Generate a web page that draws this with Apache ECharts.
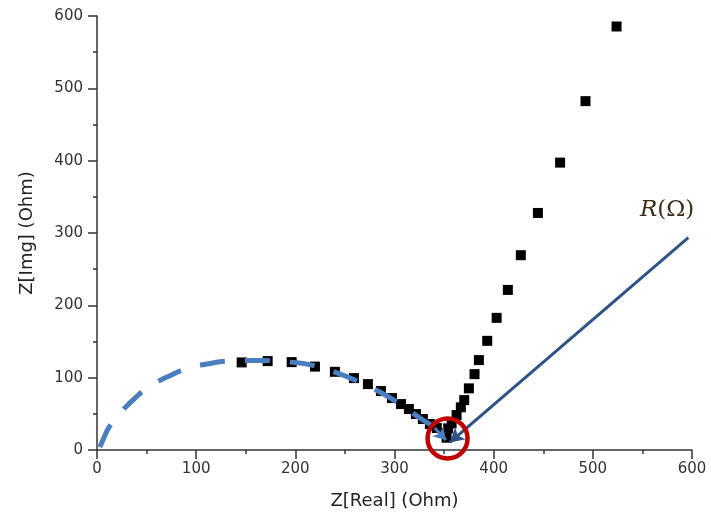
<!DOCTYPE html>
<html>
<head>
<meta charset="utf-8">
<script src="https://cdn.jsdelivr.net/npm/echarts@6/dist/echarts.min.js"></script>
<style>
html,body{margin:0;padding:0;background:#fff;}
#chart{width:711px;height:519px;}
</style>
</head>
<body>
<div id="chart"></div>
<script>
// Measured impedance points (Z real, Z imaginary), Ohm
const zReal = [145.9,172.1,196.3,219.8,239.9,259.1,273.2,286.3,297.4,306.5,314.5,321.6,328.6,335.7,342.7,348.8,352.5,
               354.1,357.6,362.6,366.9,370.3,375.0,380.7,385.1,393.5,403.0,414.3,427.4,444.6,467.0,492.6,523.9];
const zImg  = [121.1,122.9,121.5,115.3,108.1,99.4,91.1,81.5,71.8,63.5,56.6,49.7,42.8,35.9,30.4,23.5,17.0,
               29.9,36.8,48.3,59.0,69.0,85.2,104.9,124.3,150.9,182.7,221.3,269.3,327.7,397.3,482.3,585.5];
// Fitted semicircle (dashed blue)
const arcReal = [3.0,6.0,11.1,17.1,23.2,38.3,53.4,70.6,91.7,110.9,132.1,154.2,174.4,194.6,216.7,239.9,260.1,285.3,305.4,325.6,340.7,351.8];
const arcImg  = [4.0,13.8,29.0,41.4,51.1,71.8,88.4,100.8,113.2,118.8,122.9,123.6,123.6,121.5,117.4,107.7,96.7,80.1,63.5,44.2,30.4,13.8];
// R(Ω) arrow (from, to)
const rArrowReal = [596.3, 355.8];
const rArrowImg  = [293.7, 10.5];
// Red circle marking the intercept
const circleCenter = [353.5, 16.0];
// Axis ticks
const xTicks = [0,100,200,300,400,500,600];
const yTicks = [0,100,200,300,400,500,600];

const squares = zReal.map((x,i)=>[x, zImg[i]]);
const arc = arcReal.map((x,i)=>[x, arcImg[i]]);
const n = arc.length;

const chart = echarts.init(document.getElementById('chart'), null, {renderer:'canvas'});
const axisCommon = {
  min: xTicks[0], max: xTicks[xTicks.length-1], interval: xTicks[1]-xTicks[0],
  nameLocation: 'middle',
  nameTextStyle: {fontFamily:'DejaVu Sans', fontSize:18, color:'#222'},
  axisLine: {show:true, onZero:false, lineStyle:{color:'#333', width:1.5}},
  axisTick: {show:true, inside:false, length:9, lineStyle:{color:'#333', width:1.5}},
  minorTick: {show:true, splitNumber:2, length:4, lineStyle:{color:'#333', width:1.5}},
  splitLine: {show:false},
  axisLabel: {fontFamily:'DejaVu Sans', fontSize:15, color:'#333'}
};
chart.setOption({
  animation:false,
  backgroundColor:'#fff',
  grid:{left:97, right:19, top:16, bottom:69, containLabel:false},
  xAxis: Object.assign({}, axisCommon, {
    type:'value', name:'Z[Real] (Ohm)', nameGap:42,
    axisLabel: Object.assign({}, axisCommon.axisLabel, {margin:12})
  }),
  yAxis: Object.assign({}, axisCommon, {
    type:'value', name:'Z[Img] (Ohm)', nameGap:61,
    min: yTicks[0], max: yTicks[yTicks.length-1], interval: yTicks[1]-yTicks[0],
    axisLabel: Object.assign({}, axisCommon.axisLabel, {margin:14})
  }),
  series:[
    {
      type:'scatter', data:squares, symbol:'rect', symbolSize:10,
      itemStyle:{color:'#000', opacity:1}, z:2
    },
    {
      type:'line', data:arc, symbol:'none', smooth:true, z:3,
      lineStyle:{color:'#4a7ebf', width:5, type:[25,20], cap:'butt', opacity:1},
      markLine:{
        silent:true, symbol:['none','arrow'], symbolSize:[11,12],
        label:{show:false},
        lineStyle:{color:'#4a7ebf', width:3, type:'solid', opacity:1},
        data:[[{coord:arc[n-2]},{coord:arc[n-1]}]]
      }
    },
    {
      type:'line', data:[], z:4,
      markLine:{
        silent:true, symbol:['none','arrow'], symbolSize:[12,14],
        label:{show:false},
        lineStyle:{color:'#2e5286', width:3, type:'solid', opacity:1},
        data:[[{coord:[rArrowReal[0], rArrowImg[0]]},{coord:[rArrowReal[1], rArrowImg[1]]}]]
      }
    },
    {
      type:'scatter', data:[circleCenter], symbol:'circle', symbolSize:40, z:5,
      itemStyle:{color:'rgba(0,0,0,0)', borderColor:'#c00000', borderWidth:4.5, opacity:1}
    }
  ],
  graphic:[{
    type:'text', left:640, top:199, z:10,
    style:{
      text:'{i|R}{n|(Ω)}',
      rich:{
        i:{fontFamily:'DejaVu Serif', fontStyle:'italic', fontSize:23, fill:'#3b2e1a'},
        n:{fontFamily:'DejaVu Serif', fontSize:23, fill:'#3b2e1a'}
      }
    }
  }]
});
</script>
</body>
</html>
